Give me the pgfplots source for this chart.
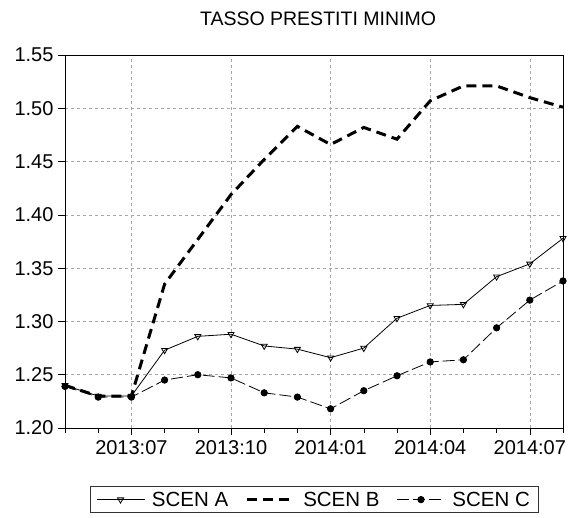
\documentclass[border=0pt]{standalone}
\usepackage{pgfplots}
\pgfplotsset{compat=1.18}
\usepackage{fontspec}
\setmainfont{Liberation Sans}
\begin{document}
\begin{tikzpicture}
\path[use as bounding box] (0,0) rectangle (572pt,517pt);
\begin{axis}[
  at={(65pt,89pt)}, anchor=south west,
  width=498pt, height=373pt, scale only axis,
  xmin=0, xmax=15, ymin=1.20, ymax=1.55,
  xtick={2,5,8,11,14},
  xticklabels={2013:07,2013:10,2014:01,2014:04,2014:07},
  minor xtick={0,1,...,15},
  ytick={1.20,1.25,...,1.56},
  yticklabel style={xshift=-1pt, /pgf/number format/fixed, /pgf/number format/fixed zerofill, /pgf/number format/precision=2},
  /pgf/number format/assume math mode=true,
  tick label style={font=\fontsize{20}{24}\selectfont},
  xticklabel style={yshift=-2pt},
  xtick pos=bottom, ytick pos=left, tick align=outside,
  major tick length=7pt, minor tick length=4.5pt,
  every tick/.style={black, line width=0.6pt},
  axis line style={line width=1pt},
  grid=major,
  major grid style={gray!70, dashed, line width=0.5pt},
  title={TASSO PRESTITI MINIMO},
  title style={font=\fontsize{19.5}{23}\selectfont, at={(0.5,1)}, yshift=20pt, xshift=4pt},
  legend columns=3,
  legend style={at={(0.5,-0.192)}, anchor=center, draw=black!80, line width=0.6pt,
     font=\fontsize{20.5}{24}\selectfont,
     /tikz/every odd column/.append style={column sep=5pt},
     /tikz/every even column/.append style={column sep=15pt},
     inner xsep=6pt, inner ysep=3pt},
  legend image code/.code={\draw[mark repeat=2,mark phase=2] plot coordinates {(0pt,0pt)(24pt,0pt)(48pt,0pt)};},
]
\addplot[black, line width=0.8pt, mark=triangle, mark options={solid, rotate=180, fill=white}, mark size=3.5pt]
coordinates {(0,1.240)(1,1.230)(2,1.230)(3,1.273)(4,1.286)(5,1.288)(6,1.277)(7,1.274)(8,1.266)(9,1.275)(10,1.303)(11,1.315)(12,1.316)(13,1.342)(14,1.354)(15,1.378)};
\addlegendentry{SCEN A}
\addplot[black, line width=3pt, dash pattern=on 10pt off 6pt]
coordinates {(0,1.240)(1,1.230)(2,1.230)(3,1.335)(4,1.377)(5,1.419)(6,1.452)(7,1.483)(8,1.466)(9,1.482)(10,1.471)(11,1.507)(12,1.521)(13,1.521)(14,1.510)(15,1.501)};
\addlegendentry{SCEN B}
\addplot[black, line width=0.8pt, dash pattern=on 12pt off 4pt, mark=*, mark options={solid}, mark size=3.2pt]
coordinates {(0,1.239)(1,1.229)(2,1.229)(3,1.245)(4,1.250)(5,1.247)(6,1.233)(7,1.229)(8,1.218)(9,1.235)(10,1.249)(11,1.262)(12,1.264)(13,1.294)(14,1.320)(15,1.338)};
\addlegendentry{SCEN C}
\end{axis}
\end{tikzpicture}
\end{document}
